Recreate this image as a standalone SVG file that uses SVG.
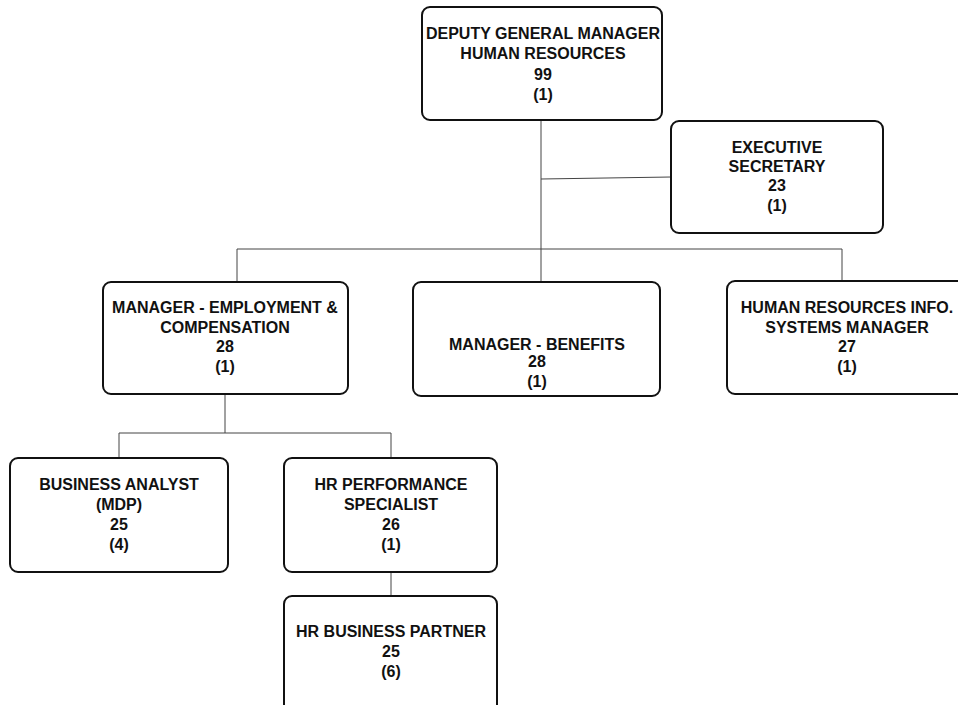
<svg xmlns="http://www.w3.org/2000/svg" width="958" height="705" viewBox="0 0 958 705">
<style>
.box{fill:#fff;stroke:#111;stroke-width:2}
.t{font-family:"Liberation Sans",Arial,sans-serif;font-weight:bold;font-size:16px;fill:#111;text-anchor:middle}
.c{stroke:#444;stroke-width:1;fill:none}
</style>
<rect width="958" height="705" fill="#fff"/>
<g id="connectors">
<line class="c" x1="541" y1="120" x2="541" y2="249"/>
<line class="c" x1="541" y1="179" x2="671" y2="177"/>
<line class="c" x1="237" y1="249" x2="842" y2="249"/>
<line class="c" x1="237" y1="249" x2="237" y2="282"/>
<line class="c" x1="541" y1="249" x2="541" y2="282"/>
<line class="c" x1="842" y1="249" x2="842" y2="281"/>
<line class="c" x1="225" y1="394" x2="225" y2="433"/>
<line class="c" x1="119" y1="433" x2="391" y2="433"/>
<line class="c" x1="119" y1="433" x2="119" y2="458"/>
<line class="c" x1="391" y1="433" x2="391" y2="458"/>
<line class="c" x1="391" y1="572" x2="391" y2="596"/>
</g>
<g id="n-dgm">
<rect class="box" x="422" y="7" width="240" height="113" rx="8"/>
<text class="t" x="543" y="39">DEPUTY GENERAL MANAGER</text>
<text class="t" x="543" y="59">HUMAN RESOURCES</text>
<text class="t" x="543" y="80">99</text>
<text class="t" x="543" y="100">(1)</text>
</g>
<g id="n-exec">
<rect class="box" x="671" y="121" width="212" height="112" rx="8"/>
<text class="t" x="777" y="153">EXECUTIVE</text>
<text class="t" x="777" y="172">SECRETARY</text>
<text class="t" x="777" y="191">23</text>
<text class="t" x="777" y="211">(1)</text>
</g>
<g id="n-emp">
<rect class="box" x="103" y="282" width="245" height="112" rx="8"/>
<text class="t" x="225" y="313">MANAGER - EMPLOYMENT &amp;</text>
<text class="t" x="225" y="333">COMPENSATION</text>
<text class="t" x="225" y="352">28</text>
<text class="t" x="225" y="372">(1)</text>
</g>
<g id="n-ben">
<rect class="box" x="413" y="282" width="247" height="114" rx="8"/>
<text class="t" x="537" y="350">MANAGER - BENEFITS</text>
<text class="t" x="537" y="367">28</text>
<text class="t" x="537" y="387">(1)</text>
</g>
<g id="n-hris">
<rect class="box" x="727" y="281" width="240" height="113" rx="8"/>
<text class="t" x="847" y="313">HUMAN RESOURCES INFO.</text>
<text class="t" x="847" y="333">SYSTEMS MANAGER</text>
<text class="t" x="847" y="352">27</text>
<text class="t" x="847" y="372">(1)</text>
</g>
<g id="n-ba">
<rect class="box" x="10" y="458" width="218" height="114" rx="8"/>
<text class="t" x="119" y="490">BUSINESS ANALYST</text>
<text class="t" x="119" y="510">(MDP)</text>
<text class="t" x="119" y="530">25</text>
<text class="t" x="119" y="550">(4)</text>
</g>
<g id="n-hrps">
<rect class="box" x="284" y="458" width="213" height="114" rx="8"/>
<text class="t" x="391" y="490">HR PERFORMANCE</text>
<text class="t" x="391" y="510">SPECIALIST</text>
<text class="t" x="391" y="530">26</text>
<text class="t" x="391" y="550">(1)</text>
</g>
<g id="n-hrbp">
<rect class="box" x="284" y="596" width="213" height="120" rx="8"/>
<text class="t" x="391" y="637">HR BUSINESS PARTNER</text>
<text class="t" x="391" y="657">25</text>
<text class="t" x="391" y="677">(6)</text>
</g>
</svg>
